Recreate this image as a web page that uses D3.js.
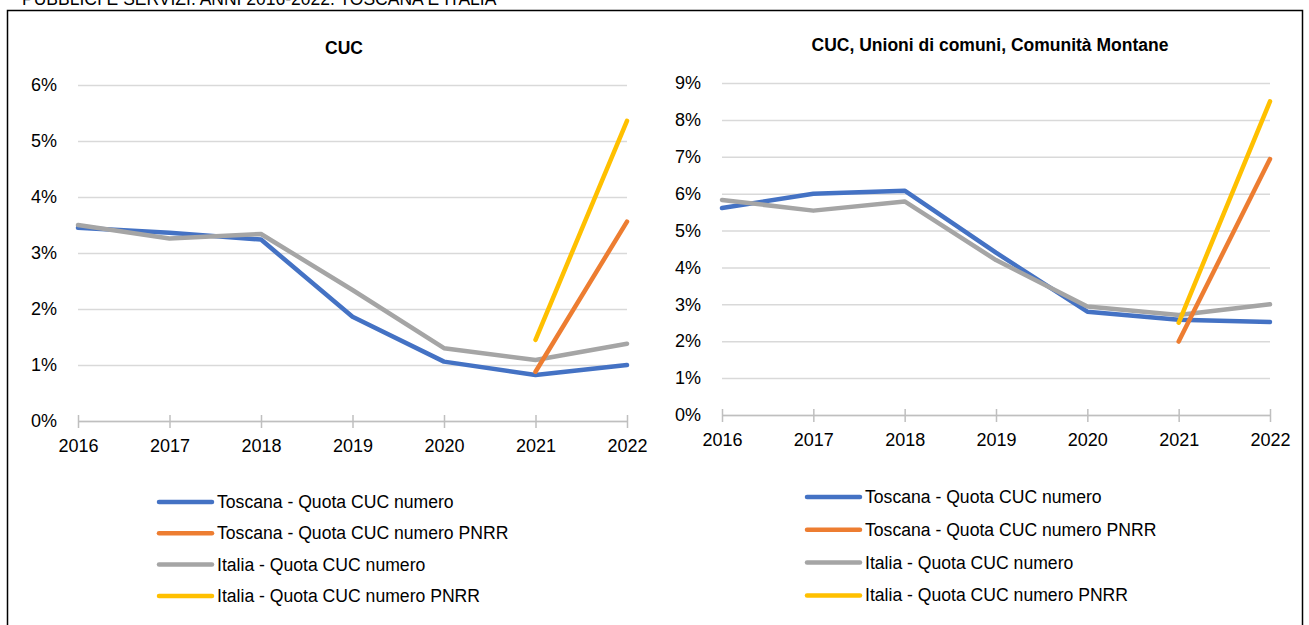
<!DOCTYPE html>
<html>
<head>
<meta charset="utf-8">
<script src="https://cdn.jsdelivr.net/npm/d3@7"></script>
<style>
  body { margin: 0; background: #fff; }
  svg text { font-family: "Liberation Sans Narrow", "Arial Narrow", "Liberation Sans", sans-serif; fill: #000; }
</style>
</head>
<body>
<div id="chart"></div>
<script>
// Data
var years = [2016, 2017, 2018, 2019, 2020, 2021, 2022];
var seriesNames = [
  "Toscana - Quota CUC numero",
  "Toscana - Quota CUC numero PNRR",
  "Italia - Quota CUC numero",
  "Italia - Quota CUC numero PNRR"
];
var colors = ["#4472C4", "#ED7D31", "#A5A5A5", "#FFC000"];

// Left panel: CUC (values in %)
var cucToscana = [3.45, 3.36, 3.24, 1.86, 1.06, 0.82, 1.00];
var cucToscanaPnrr = [null, null, null, null, null, 0.88, 3.56];
var cucItalia = [3.50, 3.26, 3.34, 2.34, 1.30, 1.09, 1.38];
var cucItaliaPnrr = [null, null, null, null, null, 1.45, 5.36];

// Right panel: CUC, Unioni di comuni, Comunità Montane (values in %)
var allToscana = [5.61, 6.00, 6.08, 4.40, 2.80, 2.58, 2.52];
var allToscanaPnrr = [null, null, null, null, null, 1.99, 6.94];
var allItalia = [5.83, 5.54, 5.79, 4.20, 2.94, 2.71, 3.00];
var allItaliaPnrr = [null, null, null, null, null, 2.50, 8.50];

var width = 1309, height = 625;

var svg = d3.select("#chart")
  .append("svg")
    .attr("width", width)
    .attr("height", height);

// header text (cut at the top edge like the source) and frame
svg.append("text")
  .attr("x", 22)
  .attr("y", 5)
  .style("font-size", "17.5px")
  .text("PUBBLICI E SERVIZI. ANNI 2016-2022. TOSCANA E ITALIA");

svg.append("rect")
  .attr("x", 7.5)
  .attr("y", 10.5)
  .attr("width", 1295)
  .attr("height", 640)
  .attr("fill", "none")
  .attr("stroke", "#000")
  .attr("stroke-width", 1.5);

function drawPanel(p) {
  var g = svg.append("g");

  var x = d3.scalePoint()
    .domain(years)
    .range([p.x0, p.x1]);

  var y = d3.scaleLinear()
    .domain([0, p.yMax])
    .range([p.y0, p.y1]);

  // title
  g.append("text")
    .attr("x", p.titleX)
    .attr("y", p.titleY)
    .attr("text-anchor", "middle")
    .style("font-size", "17.5px")
    .style("font-weight", "bold")
    .text(p.title);

  // gridlines
  g.append("g")
    .attr("transform", "translate(" + p.x0 + ",0)")
    .call(d3.axisLeft(y).ticks(p.yMax).tickSize(-(p.x1 - p.x0)).tickFormat(""))
    .call(function(a) { a.select(".domain").remove(); })
    .selectAll("line")
      .attr("stroke", "#d9d9d9")
      .attr("stroke-width", 1.5);

  // y labels
  g.append("g")
    .attr("transform", "translate(" + p.x0 + ",0)")
    .call(d3.axisLeft(y).ticks(p.yMax).tickSize(0).tickPadding(21).tickFormat(function(d) { return d + "%"; }))
    .call(function(a) { a.select(".domain").remove(); })
    .selectAll("text")
      .style("font-size", "18px")
      .attr("fill", "#000");

  // x axis
  var xa = g.append("g")
    .attr("transform", "translate(0," + p.y0 + ")")
    .call(d3.axisBottom(x).tickSizeInner(7).tickSizeOuter(0).tickPadding(11));
  xa.select(".domain").attr("stroke", "#bfbfbf").attr("stroke-width", 1.5);
  xa.selectAll("line")
    .attr("stroke", "#bfbfbf")
    .attr("stroke-width", 1.5)
    .attr("y1", -6);
  xa.selectAll("text")
    .style("font-size", "18px")
    .attr("fill", "#000");

  var line = d3.line()
    .defined(function(d) { return d != null; })
    .x(function(d, i) { return x(years[i]); })
    .y(function(d) { return y(d); });

  // draw order: blue, grey, orange, yellow
  var order = [0, 2, 1, 3];
  order.forEach(function(k) {
    g.append("path")
      .datum(p.series[k])
      .attr("d", line)
      .attr("fill", "none")
      .attr("stroke", colors[k])
      .attr("stroke-width", 4.5)
      .attr("stroke-linejoin", "round")
      .attr("stroke-linecap", "round");
  });

  // legend
  var lg = g.append("g")
    .attr("transform", "translate(" + p.legX + "," + p.legY + ")");
  seriesNames.forEach(function(name, i) {
    lg.append("line")
      .attr("x1", 0)
      .attr("x2", 53)
      .attr("y1", i * p.legStep)
      .attr("y2", i * p.legStep)
      .attr("stroke", colors[i])
      .attr("stroke-width", 4.5)
      .attr("stroke-linecap", "round");
    lg.append("text")
      .attr("x", 58)
      .attr("y", i * p.legStep + 6)
      .style("font-size", "17.6px")
      .text(name);
  });
}

drawPanel({
  title: "CUC",
  titleX: 344, titleY: 54,
  x0: 78, x1: 627,
  y0: 421, y1: 85,
  yMax: 6,
  legX: 159, legY: 502, legStep: 31.3,
  series: [cucToscana, cucToscanaPnrr, cucItalia, cucItaliaPnrr]
});

drawPanel({
  title: "CUC, Unioni di comuni, Comunità Montane",
  titleX: 990, titleY: 51,
  x0: 722, x1: 1270,
  y0: 415, y1: 83,
  yMax: 9,
  legX: 807, legY: 497, legStep: 32.8,
  series: [allToscana, allToscanaPnrr, allItalia, allItaliaPnrr]
});
</script>
</body>
</html>
